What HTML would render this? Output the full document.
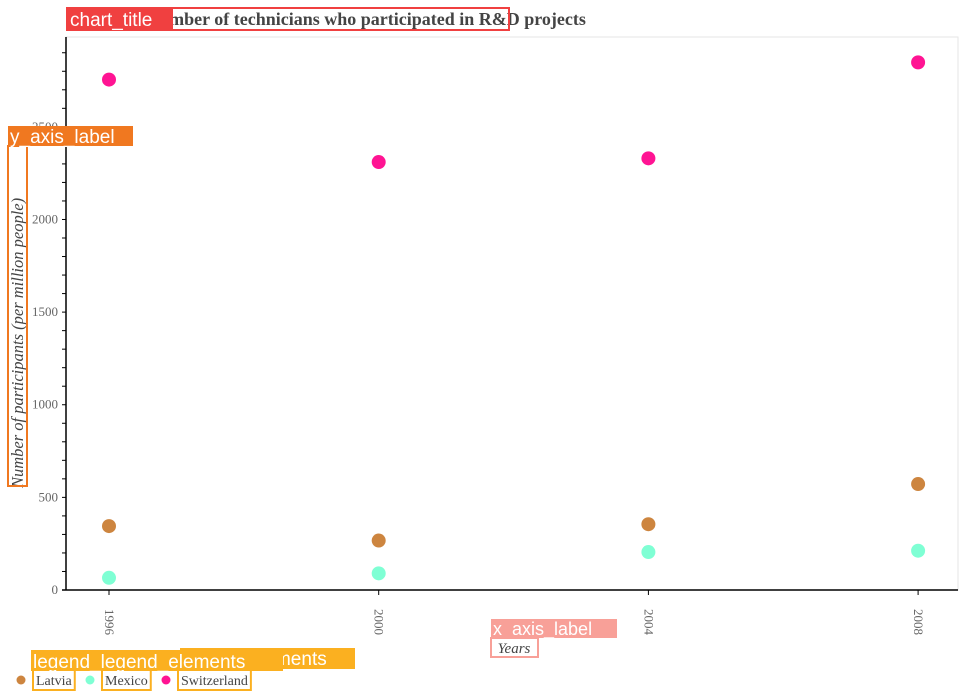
<!DOCTYPE html>
<html><head><meta charset="utf-8"><style>
body{margin:0;background:#fff;width:963px;height:700px;overflow:hidden;font-family:"Liberation Serif",serif}
svg{display:block}
</style></head><body>
<svg id="chart" width="963" height="700">
<rect x="66" y="37" width="892" height="553" fill="#fff" stroke="#e6e6e6"/>
<g id="grid"></g>
<g id="marks"></g>
<text x="366" y="25" text-anchor="middle" font-size="18" font-weight="bold" fill="#444">Number of technicians who participated in R&amp;D projects</text>
<text transform="translate(23,488) rotate(-90)" text-anchor="start" font-size="16.5" font-style="italic" fill="#444">Number of participants (per million people)</text>
<text x="514" y="653" text-anchor="middle" font-size="15" font-style="italic" fill="#444">Years</text>
<!-- annotation overlays -->
<rect x="67" y="8" width="442" height="22" fill="none" stroke="#f04040" stroke-width="2"/>
<rect x="67" y="8" width="106" height="22" fill="#f04040"/>
<text x="70" y="26" font-family="Liberation Sans,sans-serif" font-size="19" fill="#fff">chart_title</text>
<rect x="8" y="146" width="19" height="340" fill="none" stroke="#f07820" stroke-width="2"/>
<rect x="8" y="126" width="125" height="20" fill="#f07820"/>
<text x="10" y="143" font-family="Liberation Sans,sans-serif" font-size="19" fill="#fff">y_axis_label</text>
<rect x="491" y="619" width="126" height="19" fill="#f8a098"/>
<text x="493" y="635" font-family="Liberation Sans,sans-serif" font-size="18" fill="#fff">x_axis_label</text>
<rect x="491" y="638" width="47" height="19" fill="none" stroke="#f8a098" stroke-width="2"/>
<rect x="180" y="648" width="175" height="21" fill="#fbb020"/>
<text x="182" y="665" font-family="Liberation Sans,sans-serif" font-size="19" fill="#fff">legend_elements</text>
<rect x="31" y="650" width="252" height="21" fill="#fbb020"/>
<text x="33" y="668" font-family="Liberation Sans,sans-serif" font-size="19" fill="#fff">legend_legend_elements</text>
<g id="legend"></g>
</svg>
<script>
const years = ["1996","2000","2004","2008"];
const latvia = [345, 267, 355, 572];
const mexico = [66, 90, 205, 212];
const switzerland = [2755, 2310, 2330, 2848];
const yTicks = [0, 500, 1000, 1500, 2000, 2500];
const seriesNames = ["Latvia","Mexico","Switzerland"];
const seriesColors = ["#cd853f","#7fffd4","#ff1493"];

const NS="http://www.w3.org/2000/svg";
const L=66,R=958,T=37,B=590,yMax=2985;
function xs(i){return 109+i*269.7;}
function ys(v){return B-(v/yMax)*(B-T);}
function mk(tag,attrs,parent){const e=document.createElementNS(NS,tag);for(const k in attrs)e.setAttribute(k,attrs[k]);parent.appendChild(e);return e;}
const grid=document.getElementById('grid'),marks=document.getElementById('marks'),legend=document.getElementById('legend');
const yAxis=mk('line',{x1:L,x2:L,y1:T,y2:B,stroke:'#000','stroke-width':1.5},grid);


const xAxis=mk('line',{x1:L-4,x2:R,y1:B,y2:B,stroke:'#000','stroke-width':1.5},grid);


for(let v=0;v<=yMax;v+=100){
  const t=mk('line',{x1:L-4,x2:L,y1:ys(v),y2:ys(v),stroke:'#000'},grid);
  
  
}
yTicks.forEach(v=>{
  const t=mk('text',{x:L-8,y:ys(v)+4,'text-anchor':'end','font-size':13,fill:'#666'},grid);
  t.textContent=v;
  
  
});
years.forEach((y,i)=>{
  const t=mk('line',{x1:xs(i),x2:xs(i),y1:B,y2:B+5,stroke:'#000'},grid);
  
  
  const l=mk('text',{transform:`translate(${xs(i)-4},${B+19}) rotate(90)`,'font-size':13,fill:'#666'},grid);
  l.textContent=y;
  
  
});
[latvia,mexico,switzerland].forEach((s,si)=>{
  s.forEach((v,i)=>{
    const c=mk('circle',{cx:xs(i),cy:ys(v),r:7,fill:seriesColors[si]},marks);
    
    
  });
});
const lx=[21,90,166];
seriesNames.forEach((n,i)=>{
  const c=mk('circle',{cx:lx[i],cy:680,r:4.5,fill:seriesColors[i]},legend);
  
  
  const t=mk('text',{x:lx[i]+15,y:685,'font-size':14,fill:'#444'},legend);
  t.textContent=n;
  
  
  const w=t.getComputedTextLength();
  const b=mk('rect',{x:lx[i]+12,y:669,width:w+6,height:21,fill:'none',stroke:'#fbb020','stroke-width':2},legend);
  
  
});
</script>
</body></html>
